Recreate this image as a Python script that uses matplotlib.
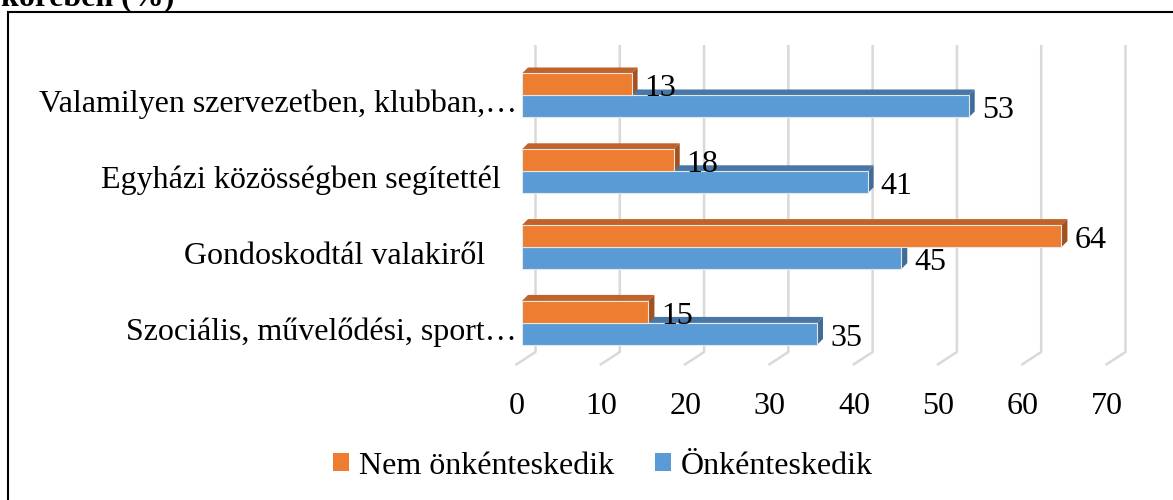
import matplotlib
matplotlib.use("Agg")
import matplotlib.pyplot as plt
from matplotlib.patches import Rectangle, Polygon
import numpy as np

plt.rcParams['font.family'] = ['Liberation Serif', 'DejaVu Serif']

# data
categories = ["Szociális, művelődési, sport…",
              "Gondoskodtál valakiről    ",
              "Egyházi közösségben segítettél  ",
              "Valamilyen szervezetben, klubban,…"]
nem_onkentes = [15, 64, 18, 13]
onkentes = [35, 45, 41, 53]
series_names = ["Nem önkénteskedik", "Önkénteskedik"]
xticks = [0, 10, 20, 30, 40, 50, 60, 70]
title = "körében (%)"

W, H, DPI = 1173, 500, 100
FS = 23

fig = plt.figure(figsize=(W / DPI, H / DPI), dpi=DPI)

# axes geometry in pixels
ax_left, ax_right = 522, 1112
ax_top, ax_bot = 50, 368.4
ax = fig.add_axes([ax_left / W, 1 - ax_bot / H, (ax_right - ax_left) / W, (ax_bot - ax_top) / H])
ax.set_xlim(0, 70)
ax.set_ylim(-0.6, 3.6)
ax.axis('off')

sx = (ax_right - ax_left) / 70.0          # px per value unit
sy = (ax_bot - ax_top) / 4.2              # px per category unit
def px_x(p): return p / sx
def px_y(p): return p / sy

# back wall gridlines with floor
back_dx = px_x(13.5)
y_top = 3.6 + px_y(5)
y_bend = 3.6 - px_y(352 - ax_top)
y_floor = 3.6 - px_y(365 - ax_top)
for v in xticks:
    xb = v + back_dx
    ax.plot([xb, xb, xb - px_x(20)], [y_top, y_bend, y_floor], color='#d9d9d9',
            lw=1.8, zorder=1, clip_on=False, solid_capstyle='butt')
    ax.text(v - px_x(5), 3.6 - px_y(414 - ax_top), str(v), ha='center', va='baseline',
            fontsize=FS, clip_on=False)

h = px_y(22)
ddx, ddy = px_x(6), px_y(6)
colors = {
    'nem': ('#ED7D31', '#C0622A', '#A3521F'),
    'onk': ('#5B9BD5', '#4677A6', '#3F6D99'),
}

def bar3d(v, y0, cols, z):
    front, top, side = cols
    ax.add_patch(Polygon([(0, y0 + h), (v, y0 + h), (v + ddx, y0 + h + ddy), (ddx, y0 + h + ddy)],
                         closed=True, facecolor=top, edgecolor='none', zorder=z))
    ax.add_patch(Polygon([(v, y0), (v + ddx, y0 + ddy), (v + ddx, y0 + h + ddy), (v, y0 + h)],
                         closed=True, facecolor=side, edgecolor='none', zorder=z))
    r = Rectangle((0, y0), v, h, facecolor=front, edgecolor='#e6e6e6', lw=0.8, zorder=z + 0.1)
    ax.add_patch(r)
    ax.text(v + px_x(13), y0 - px_y(1), str(v), ha='left', va='baseline', fontsize=FS, zorder=z + 1)
    return r

handles = {}
for i, cat in enumerate(categories):
    handles['onk'] = bar3d(onkentes[i], i - h, colors['onk'], 2 + i * 0.01)
    handles['nem'] = bar3d(nem_onkentes[i], i, colors['nem'], 3 + i * 0.01)
    ax.text(-px_x(5), i - px_y(17), cat, ha='right', va='baseline', fontsize=FS, clip_on=False)

leg_nem = Rectangle((0, 0), 1, 1, facecolor=colors['nem'][0], edgecolor='none')
leg_onk = Rectangle((0, 0), 1, 1, facecolor=colors['onk'][0], edgecolor='none')
fig.legend([leg_nem, leg_onk], series_names, loc='center',
           bbox_to_anchor=(603 / W, 1 - 466 / H), ncol=2, frameon=False, fontsize=FS,
           handlelength=0.5, handleheight=0.5, handletextpad=0.3, columnspacing=1.3,
           borderpad=0)

# chart border and cut-off title
fig.add_artist(Rectangle((8 / W, -0.1), 1.2, 1 - 12 / H + 0.1, transform=fig.transFigure,
                         fill=False, edgecolor='black', lw=1.5))
fig.text(1 / W, 1 - 5 / H, title, ha='left', va='baseline', fontsize=FS, fontweight='bold')

fig.savefig("out.png", dpi=DPI)
